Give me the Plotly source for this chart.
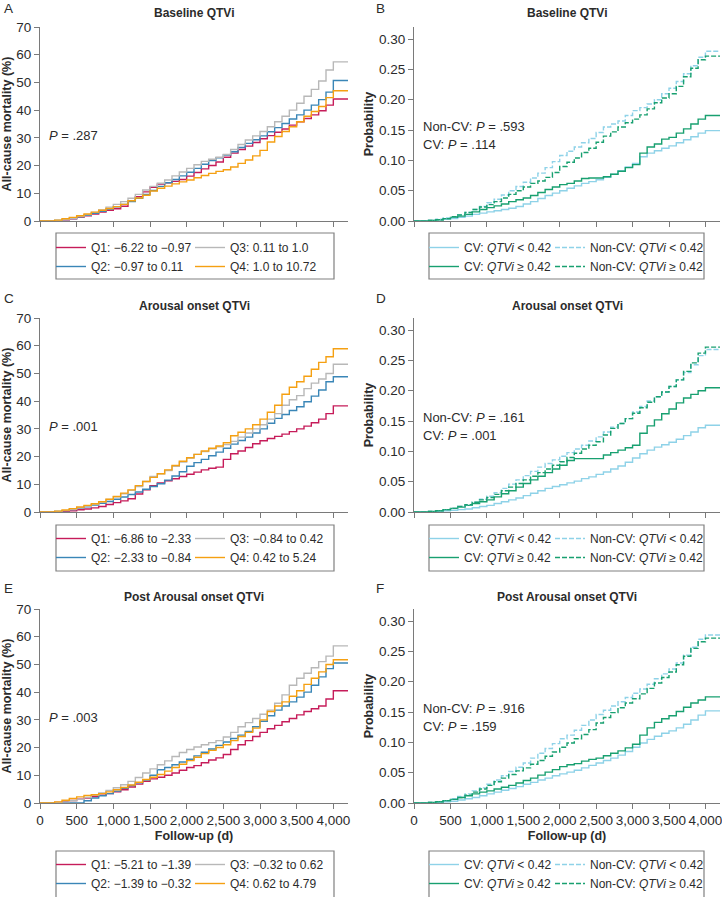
import plotly.graph_objects as go

W, H = 722, 897
FONT = "Liberation Sans, Arial, Helvetica, sans-serif"
TXT = "#2b2b2b"
AXC = "#7a7a7a"

# ---------------- data ----------------
days = [0, 100, 200, 300, 400, 500, 600, 700, 800, 900,
        1000, 1100, 1200, 1300, 1400, 1500, 1600, 1700, 1800, 1900,
        2000, 2100, 2200, 2300, 2400, 2500, 2600, 2700, 2800, 2900,
        3000, 3100, 3200, 3300, 3400, 3500, 3600, 3700, 3800, 3900,
        4000, 4200]

# Panel A - Baseline QTVi, all-cause mortality (%)
a_q1 = [0, 0, 0.1, 0.4, 0.8, 1.3, 1.9, 2.5, 3.2, 3.9,
        4.4, 5.3, 7.2, 8.8, 10.5, 12.2, 13.3, 13.8, 14.3, 15.0,
        16.2, 17.5, 18.8, 20.0, 21.3, 23.0, 24.5, 25.8, 27.0, 28.3,
        29.7, 30.8, 32.0, 33.2, 34.6, 35.8, 37.0, 38.3, 39.8, 41.8,
        44.0, 44.0]
a_q2 = [0, 0, 0.2, 0.5, 0.9, 1.5, 2.1, 2.8, 3.5, 4.3,
        5.1, 6.0, 7.0, 8.2, 9.6, 11.0, 12.5, 13.8, 15.0, 16.3,
        17.6, 19.0, 20.5, 21.8, 22.8, 23.8, 25.0, 26.5, 28.0, 29.3,
        30.7, 32.2, 33.7, 35.2, 36.8, 38.3, 40.0, 41.8, 43.8, 46.5,
        50.7, 50.7]
a_q3 = [0, 0, 0.2, 0.6, 1.0, 1.6, 2.3, 3.1, 4.0, 5.0,
        6.0, 7.0, 8.2, 9.6, 11.2, 12.5, 13.6, 14.8, 16.3, 17.7,
        19.0, 20.3, 21.5, 22.3, 23.0, 24.0, 25.8, 27.6, 29.2, 30.7,
        32.3, 34.0, 35.8, 37.8, 40.0, 42.5, 45.0, 47.5, 50.5, 54.5,
        57.4, 57.4]
a_q4 = [0, 0, 0.3, 0.8, 1.3, 1.9, 2.5, 3.2, 3.9, 4.5,
        5.2, 6.0, 7.3, 8.3, 9.3, 10.8, 11.8, 12.6, 13.4, 14.1,
        14.8, 15.6, 16.4, 17.2, 17.9, 18.5, 19.5, 20.8, 22.0, 23.5,
        25.5, 28.5, 30.5, 32.3, 34.0, 35.8, 37.8, 39.5, 41.3, 44.5,
        47.0, 47.0]
a_names = ["Q1: \u22126.22 to \u22120.97", "Q2: \u22120.97 to 0.11",
           "Q3: 0.11 to 1.0", "Q4: 1.0 to 10.72"]

# Panel B - Baseline QTVi, probability
b_cv_lo = [0, 0, 0.001, 0.002, 0.003, 0.004, 0.006, 0.008, 0.011, 0.013,
           0.015, 0.017, 0.019, 0.021, 0.024, 0.028, 0.032, 0.037, 0.042, 0.046,
           0.050, 0.054, 0.058, 0.062, 0.065, 0.068, 0.072, 0.077, 0.083, 0.089,
           0.095, 0.106, 0.112, 0.116, 0.120, 0.124, 0.129, 0.134, 0.139, 0.145,
           0.149, 0.149]
b_cv_hi = [0, 0, 0.001, 0.002, 0.004, 0.006, 0.008, 0.011, 0.015, 0.019,
           0.022, 0.025, 0.028, 0.032, 0.035, 0.038, 0.042, 0.047, 0.052, 0.056,
           0.060, 0.062, 0.066, 0.070, 0.071, 0.071, 0.073, 0.077, 0.082, 0.088,
           0.093, 0.112, 0.122, 0.127, 0.135, 0.138, 0.145, 0.152, 0.160, 0.168,
           0.174, 0.174]
b_ncv_lo = [0, 0, 0.001, 0.003, 0.005, 0.007, 0.010, 0.014, 0.019, 0.024,
            0.030, 0.036, 0.043, 0.050, 0.057, 0.064, 0.071, 0.079, 0.088, 0.098,
            0.108, 0.115, 0.122, 0.129, 0.136, 0.146, 0.155, 0.160, 0.165, 0.174,
            0.182, 0.187, 0.193, 0.200, 0.210, 0.219, 0.230, 0.243, 0.256, 0.270,
            0.280, 0.280]
b_ncv_hi = [0, 0, 0.001, 0.002, 0.004, 0.007, 0.010, 0.014, 0.019, 0.023,
            0.027, 0.032, 0.038, 0.044, 0.050, 0.056, 0.062, 0.066, 0.072, 0.080,
            0.090, 0.097, 0.104, 0.113, 0.120, 0.130, 0.140, 0.147, 0.155, 0.162,
            0.168, 0.175, 0.185, 0.195, 0.203, 0.210, 0.222, 0.238, 0.252, 0.266,
            0.272, 0.272]

# Panel C - Arousal onset QTVi
c_q1 = [0, 0, 0, 0.1, 0.4, 0.8, 1.1, 1.5, 2.0, 2.7,
        3.4, 4.0, 4.8, 6.5, 8.0, 9.5, 10.5, 11.3, 12.0, 12.8,
        13.6, 14.4, 15.2, 15.8, 16.2, 19.0, 21.0, 22.0, 23.3, 24.6,
        25.7, 26.5, 27.3, 28.1, 29.0, 30.0, 31.0, 32.2, 33.5, 35.5,
        38.3, 38.3]
c_q2 = [0, 0, 0.2, 0.5, 0.9, 1.4, 1.9, 2.5, 3.1, 3.8,
        4.6, 5.4, 6.3, 7.2, 8.2, 9.2, 10.2, 11.5, 13.0, 14.5,
        16.5, 17.8, 19.0, 20.3, 21.6, 23.0, 24.5, 25.8, 27.0, 28.5,
        30.0, 32.0, 33.8, 35.2, 36.6, 38.0, 39.8, 41.8, 44.0, 47.0,
        48.8, 48.8]
c_q3 = [0, 0, 0.2, 0.5, 1.0, 1.5, 2.1, 2.8, 3.6, 4.5,
        5.5, 6.6, 7.8, 9.2, 11.0, 12.8, 13.8, 15.0, 16.5, 18.0,
        19.5, 20.8, 21.8, 22.8, 23.5, 24.3, 25.5, 27.0, 28.5, 30.0,
        31.5, 33.5, 35.5, 38.5, 40.5, 42.0, 44.5, 46.5, 48.0, 50.0,
        53.3, 53.3]
c_q4 = [0, 0, 0.3, 0.7, 1.2, 1.8, 2.4, 3.0, 3.7, 4.6,
        5.6, 6.8, 8.0, 9.5, 11.0, 12.5, 13.8, 15.2, 16.8, 18.3,
        19.6, 20.8, 22.0, 23.0, 23.8, 25.0, 27.5, 28.8, 30.0, 31.5,
        33.5, 36.0, 38.5, 42.5, 45.0, 47.0, 49.0, 51.5, 54.0, 56.0,
        58.9, 58.9]
c_names = ["Q1: \u22126.86 to \u22122.33", "Q2: \u22122.33 to \u22120.84",
           "Q3: \u22120.84 to 0.42", "Q4: 0.42 to 5.24"]

# Panel D - Arousal onset QTVi, probability
d_cv_lo = [0, 0, 0, 0.001, 0.002, 0.003, 0.004, 0.005, 0.007, 0.009,
           0.011, 0.014, 0.017, 0.020, 0.023, 0.027, 0.031, 0.035, 0.039, 0.042,
           0.045, 0.048, 0.051, 0.055, 0.058, 0.062, 0.066, 0.071, 0.076, 0.082,
           0.089, 0.096, 0.102, 0.107, 0.111, 0.115, 0.120, 0.126, 0.132, 0.139,
           0.143, 0.143]
d_cv_hi = [0, 0, 0.001, 0.002, 0.004, 0.006, 0.008, 0.011, 0.014, 0.017,
           0.020, 0.025, 0.030, 0.035, 0.041, 0.047, 0.053, 0.059, 0.065, 0.071,
           0.077, 0.085, 0.088, 0.088, 0.088, 0.088, 0.094, 0.098, 0.102, 0.106,
           0.110, 0.130, 0.142, 0.152, 0.162, 0.170, 0.180, 0.188, 0.194, 0.200,
           0.205, 0.205]
d_ncv_lo = [0, 0, 0.001, 0.002, 0.004, 0.006, 0.009, 0.012, 0.016, 0.021,
            0.026, 0.032, 0.039, 0.046, 0.053, 0.060, 0.067, 0.074, 0.080, 0.086,
            0.092, 0.098, 0.104, 0.110, 0.117, 0.124, 0.132, 0.140, 0.146, 0.154,
            0.165, 0.174, 0.183, 0.190, 0.198, 0.207, 0.218, 0.230, 0.243, 0.258,
            0.268, 0.268]
d_ncv_hi = [0, 0, 0.001, 0.002, 0.004, 0.006, 0.009, 0.012, 0.016, 0.020,
            0.024, 0.029, 0.035, 0.041, 0.047, 0.053, 0.059, 0.065, 0.071, 0.077,
            0.083, 0.090, 0.097, 0.104, 0.110, 0.116, 0.127, 0.138, 0.146, 0.154,
            0.163, 0.172, 0.181, 0.190, 0.198, 0.207, 0.218, 0.232, 0.246, 0.262,
            0.272, 0.272]

# Panel E - Post arousal onset QTVi
e_q1 = [0, 0, 0.2, 0.5, 0.9, 1.4, 1.8, 2.3, 2.8, 3.4,
        4.0, 4.8, 5.8, 6.8, 7.8, 8.7, 9.3, 10.0, 10.8, 11.8,
        12.8, 13.5, 14.5, 15.5, 16.3, 17.5, 19.3, 21.0, 22.5, 24.0,
        25.5, 26.8, 28.0, 29.3, 30.5, 31.8, 33.0, 34.0, 35.0, 37.5,
        40.5, 40.5]
e_q2 = [0, 0, 0, 0, 0, 0, 0.8, 1.8, 2.6, 3.4,
        4.3, 5.3, 6.3, 7.3, 8.3, 10.0, 12.0, 12.8, 13.8, 14.8,
        15.8, 17.0, 18.3, 19.5, 20.8, 22.0, 23.3, 24.5, 25.8, 27.5,
        29.5, 31.5, 33.5, 35.0, 36.5, 38.2, 40.0, 42.5, 45.5, 48.5,
        50.5, 50.5]
e_q3 = [0, 0, 0.1, 0.4, 0.8, 1.3, 2.0, 2.8, 3.6, 4.5,
        5.5, 6.6, 7.8, 9.2, 10.8, 12.3, 13.8, 15.2, 16.8, 18.2,
        19.3, 20.2, 21.0, 21.8, 22.5, 23.8, 25.5, 27.5, 29.0, 30.5,
        32.0, 33.5, 36.0, 39.0, 42.5, 45.0, 46.8, 48.8, 51.0, 53.0,
        56.7, 56.7]
e_q4 = [0, 0, 0.4, 1.0, 1.6, 2.2, 2.7, 3.0, 3.4, 4.0,
        4.8, 5.6, 6.5, 7.5, 8.5, 9.3, 10.3, 11.5, 12.8, 14.0,
        15.3, 16.5, 17.8, 19.0, 20.0, 21.0, 22.5, 24.0, 25.5, 27.0,
        30.0, 33.0, 35.0, 36.5, 38.5, 40.5, 42.8, 45.0, 47.3, 50.0,
        51.7, 51.7]
e_names = ["Q1: \u22125.21 to \u22121.39", "Q2: \u22121.39 to \u22120.32",
           "Q3: \u22120.32 to 0.62", "Q4: 0.62 to 4.79"]

# Panel F - Post arousal onset QTVi, probability
f_cv_lo = [0, 0, 0, 0.001, 0.002, 0.003, 0.005, 0.007, 0.009, 0.012,
           0.015, 0.018, 0.021, 0.024, 0.027, 0.031, 0.034, 0.038, 0.041, 0.045,
           0.048, 0.051, 0.054, 0.058, 0.062, 0.066, 0.070, 0.074, 0.079, 0.085,
           0.092, 0.099, 0.105, 0.110, 0.115, 0.119, 0.124, 0.130, 0.137, 0.145,
           0.152, 0.152]
f_cv_hi = [0, 0, 0.001, 0.002, 0.004, 0.006, 0.009, 0.012, 0.015, 0.018,
           0.020, 0.023, 0.026, 0.029, 0.033, 0.037, 0.041, 0.046, 0.051, 0.055,
           0.060, 0.063, 0.065, 0.069, 0.072, 0.074, 0.078, 0.082, 0.086, 0.091,
           0.097, 0.112, 0.124, 0.133, 0.139, 0.144, 0.151, 0.158, 0.165, 0.170,
           0.175, 0.175]
f_ncv_lo = [0, 0, 0.001, 0.002, 0.004, 0.007, 0.011, 0.015, 0.020, 0.025,
            0.031, 0.038, 0.045, 0.052, 0.059, 0.066, 0.074, 0.082, 0.090, 0.098,
            0.106, 0.112, 0.120, 0.128, 0.137, 0.146, 0.153, 0.160, 0.167, 0.174,
            0.181, 0.188, 0.196, 0.205, 0.213, 0.221, 0.231, 0.244, 0.257, 0.270,
            0.277, 0.277]
f_ncv_hi = [0, 0, 0.001, 0.002, 0.004, 0.006, 0.009, 0.013, 0.018, 0.023,
            0.029, 0.035, 0.041, 0.047, 0.053, 0.058, 0.064, 0.070, 0.077, 0.084,
            0.092, 0.099, 0.106, 0.113, 0.121, 0.132, 0.141, 0.149, 0.157, 0.165,
            0.172, 0.180, 0.189, 0.198, 0.207, 0.216, 0.228, 0.242, 0.255, 0.266,
            0.272, 0.272]

cv_names = ["CV: <i>QTVi</i> &lt; 0.42", "CV: <i>QTVi</i> \u2265 0.42",
            "Non-CV: <i>QTVi</i> &lt; 0.42", "Non-CV: <i>QTVi</i> \u2265 0.42"]

panel_titles = ["Baseline QTVi", "Baseline QTVi",
                "Arousal onset QTVi", "Arousal onset QTVi",
                "Post Arousal onset QTVi", "Post Arousal onset QTVi"]
panel_letters = ["A", "B", "C", "D", "E", "F"]
p_left = ["<i>P</i> = .287", "<i>P</i> = .001", "<i>P</i> = .003"]
p_right = [("Non-CV: <i>P</i> = .593", "CV: <i>P</i> = .114"),
           ("Non-CV: <i>P</i> = .161", "CV: <i>P</i> = .001"),
           ("Non-CV: <i>P</i> = .916", "CV: <i>P</i> = .159")]

# ---------------- styles ----------------
RED, BLUE, GRAY, ORANGE = "#c61c5a", "#3a86b7", "#b8b8b8", "#f5a012"
LIGHT, GREEN = "#8ed2e8", "#18a070"
q_colors = [RED, BLUE, GRAY, ORANGE]
cv_colors = [LIGHT, GREEN, LIGHT, GREEN]
cv_dash = ["solid", "solid", "5px,2px", "5px,2px"]

col_px = [(40, 348), (414, 720)]
row_px = [(27, 221), (318, 512), (609, 803)]
legend_top = [233, 524, 850]
legend_x = [(51, 190), (424, 550)]
box_x = [(56, 334), (429, 704)]
box_y = [(233, 279), (525, 571), (851, 905)]

left_sets = [(a_q1, a_q2, a_q3, a_q4, a_names),
             (c_q1, c_q2, c_q3, c_q4, c_names),
             (e_q1, e_q2, e_q3, e_q4, e_names)]
right_sets = [(b_cv_lo, b_cv_hi, b_ncv_lo, b_ncv_hi),
              (d_cv_lo, d_cv_hi, d_ncv_lo, d_ncv_hi),
              (f_cv_lo, f_cv_hi, f_ncv_lo, f_ncv_hi)]

fig = go.Figure()
layout = {}
annotations = []
shapes = []


def pxx(p):
    return p / W


def pxy(p):
    return 1 - p / H


for idx in range(6):
    r, c = divmod(idx, 2)
    n = idx + 1
    sfx = "" if n == 1 else str(n)
    xref, yref = "x" + sfx, "y" + sfx
    leg1 = "legend" if idx == 0 else "legend" + str(2 * idx + 1)
    leg2 = "legend" + str(2 * idx + 2)

    if c == 0:
        ys = left_sets[r]
        for k in range(4):
            fig.add_trace(go.Scatter(
                x=days, y=ys[k], mode="lines", name=ys[4][k],
                line=dict(color=q_colors[k], width=1.4, shape="hv"),
                xaxis=xref, yaxis=yref,
                legend=leg1 if k < 2 else leg2))
    else:
        ys = right_sets[r]
        for k in range(4):
            fig.add_trace(go.Scatter(
                x=days, y=ys[k], mode="lines", name=cv_names[k],
                line=dict(color=cv_colors[k], width=1.4, shape="hv", dash=cv_dash[k]),
                xaxis=xref, yaxis=yref,
                legend=leg1 if k < 2 else leg2))

    x0, x1 = col_px[c]
    y0, y1 = row_px[r]
    xa = dict(domain=[pxx(x0), pxx(x1)], range=[0, 4200], tick0=0, dtick=500,
              tickformat=",d", tickangle=0, showticklabels=(r == 2), anchor=yref,
              ticklabeloverflow="allow",
              showline=True, linecolor=AXC, linewidth=1, ticks="outside",
              ticklen=5, tickcolor=AXC, showgrid=False, zeroline=False,
              tickfont=dict(family=FONT, size=13.5, color=TXT))
    if r == 2:
        xa["title"] = dict(text="<b>Follow-up (d)</b>", standoff=4,
                           font=dict(family=FONT, size=12.5, color=TXT))
    if c == 0:
        ya = dict(range=[0, 70], tick0=0, dtick=10,
                  title=dict(text="<b>All-cause mortality (%)</b>", standoff=2,
                             font=dict(family=FONT, size=12.5, color=TXT)))
    else:
        ya = dict(range=[0, 0.32], tick0=0, dtick=0.05, tickformat=".2f",
                  title=dict(text="<b>Probability</b>", standoff=2,
                             font=dict(family=FONT, size=12.5, color=TXT)))
    ya.update(domain=[pxy(y1), pxy(y0)], anchor=xref, showline=True,
              linecolor=AXC, linewidth=1, ticks="outside", ticklen=5,
              tickcolor=AXC, showgrid=False, zeroline=False,
              tickfont=dict(family=FONT, size=13.5, color=TXT))
    layout["xaxis" + sfx] = xa
    layout["yaxis" + sfx] = ya

    # legends (two columns inside one framed box)
    lx1, lx2 = legend_x[c]
    for leg, lx in ((leg1, lx1), (leg2, lx2)):
        layout[leg] = dict(x=pxx(lx), y=pxy(legend_top[r]), xanchor="left",
                           yanchor="top", orientation="v",
                           bgcolor="rgba(0,0,0,0)", borderwidth=0,
                           tracegroupgap=0, itemwidth=30,
                           font=dict(family=FONT, size=12, color=TXT))
    bx0, bx1 = box_x[c]
    by0, by1 = box_y[r]
    shapes.append(dict(type="rect", xref="paper", yref="paper",
                       x0=pxx(bx0), x1=pxx(bx1), y0=pxy(by1), y1=pxy(by0),
                       line=dict(color="#808080", width=1.2),
                       fillcolor="rgba(0,0,0,0)"))

    # title
    title_y = [13, 306, 597][r]
    annotations.append(dict(text="<b>" + panel_titles[idx] + "</b>",
                            xref="paper", yref="paper",
                            x=pxx((x0 + x1) / 2), y=pxy(title_y),
                            xanchor="center", yanchor="middle", showarrow=False,
                            font=dict(family=FONT, size=12, color=TXT)))
    # panel letter
    letter_x = [2, 374][c]
    letter_y = [8, 298, 588][r]
    annotations.append(dict(text=panel_letters[idx], xref="paper", yref="paper",
                            x=pxx(letter_x), y=pxy(letter_y),
                            xanchor="left", yanchor="middle", showarrow=False,
                            font=dict(family=FONT, size=13.5, color=TXT)))
    # p-values
    if c == 0:
        annotations.append(dict(text=p_left[r], xref=xref + " domain",
                                yref=yref + " domain", x=0.022, y=0.442,
                                xanchor="left", yanchor="middle", showarrow=False,
                                font=dict(family=FONT, size=13, color=TXT)))
    else:
        for txt, yy in zip(p_right[r], (0.488, 0.393)):
            annotations.append(dict(text=txt, xref=xref + " domain",
                                    yref=yref + " domain", x=0.022, y=yy,
                                    xanchor="left", yanchor="middle",
                                    showarrow=False,
                                    font=dict(family=FONT, size=13, color=TXT)))

fig.update_layout(**layout)
fig.update_layout(width=W, height=H,
                  margin=dict(l=0, r=0, t=0, b=0, autoexpand=False),
                  paper_bgcolor="white", plot_bgcolor="white",
                  font=dict(family=FONT, size=13, color=TXT),
                  annotations=annotations, shapes=shapes, showlegend=True)

fig.write_html(
    "out.html",
    config={"displayModeBar": False},
    post_script=("document.body.style.margin='0';"
                 "document.body.style.padding='0';"
                 "document.documentElement.style.overflow='hidden';"
                 "document.body.style.overflow='hidden';"))
